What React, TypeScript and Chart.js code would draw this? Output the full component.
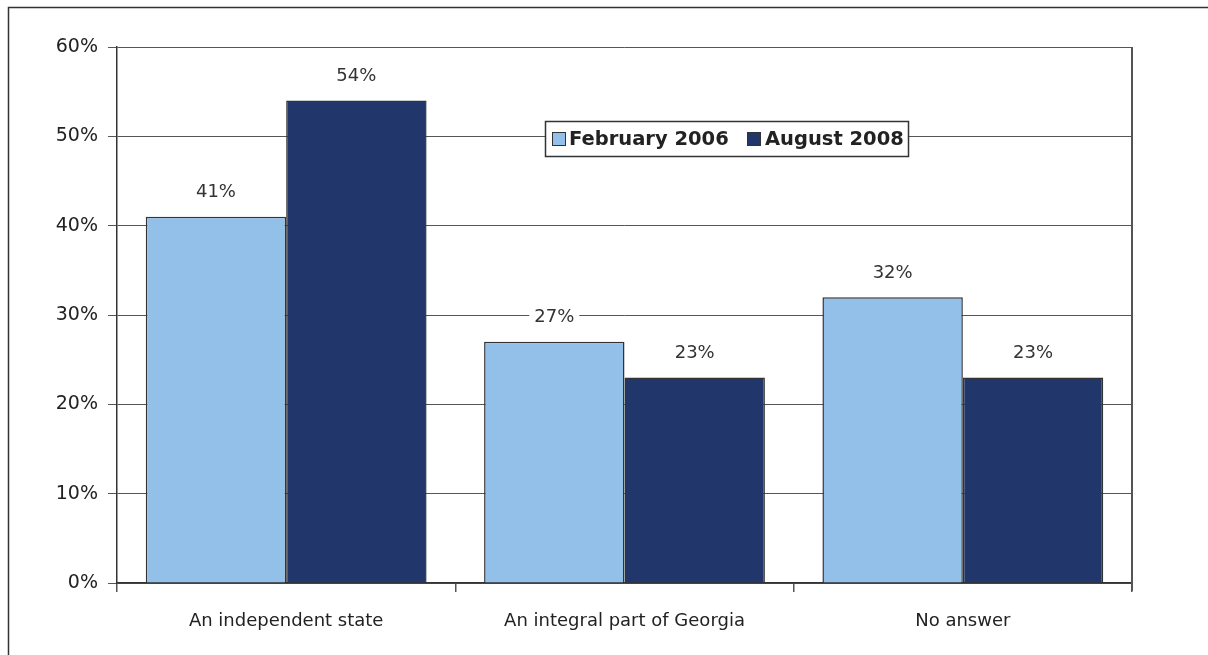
import React, { useEffect, useRef } from "react";
import { Chart, registerables } from "chart.js";

Chart.register(...registerables);

const categories = ["An independent state", "An integral part of Georgia", "No answer"];
const seriesNames = ["February 2006", "August 2008"];
const feb2006 = [41, 27, 32];
const aug2008 = [54, 23, 23];
const colors = ["#92C0E8", "#21366B"];
const FONT = "'DejaVu Sans', sans-serif";

const framePlugin = {
  id: "frame",
  beforeDraw(chart: any) {
    const ctx = chart.ctx;
    ctx.save();
    ctx.fillStyle = "#fff";
    ctx.fillRect(0, 0, chart.width, chart.height);
    ctx.strokeStyle = "#333";
    ctx.lineWidth = 1.5;
    ctx.beginPath();
    ctx.moveTo(8.5, chart.height + 5);
    ctx.lineTo(8.5, 7.5);
    ctx.lineTo(chart.width + 5, 7.5);
    ctx.stroke();
    ctx.restore();
  },
  afterDatasetsDraw(chart: any) {
    const ctx = chart.ctx;
    const a = chart.chartArea;
    ctx.save();
    ctx.strokeStyle = "#555";
    ctx.lineWidth = 2;
    ctx.beginPath();
    ctx.moveTo(a.right, a.top);
    ctx.lineTo(a.right, a.bottom + 8);
    ctx.stroke();
    ctx.font = `18px ${FONT}`;
    ctx.textAlign = "center";
    ctx.textBaseline = "middle";
    chart.data.datasets.forEach((ds: any, di: number) => {
      const meta = chart.getDatasetMeta(di);
      meta.data.forEach((bar: any, i: number) => {
        const txt = ds.data[i] + "%";
        const x = bar.x;
        const y = bar.y - 24;
        const w = ctx.measureText(txt).width + 10;
        ctx.fillStyle = "#fff";
        ctx.fillRect(x - w / 2, y - 11, w, 22);
        ctx.fillStyle = "#333";
        ctx.fillText(txt, x, y);
      });
    });
    const lx = 545, ly = 121, lw = 363, lh = 35;
    ctx.fillStyle = "#fff";
    ctx.fillRect(lx, ly, lw, lh);
    ctx.strokeStyle = "#333";
    ctx.lineWidth = 1.5;
    ctx.strokeRect(lx + 0.5, ly + 0.5, lw, lh);
    ctx.font = `bold 19.5px ${FONT}`;
    ctx.textAlign = "left";
    ctx.textBaseline = "middle";
    const items = [
      { x: 552, tx: 569 },
      { x: 747, tx: 765 },
    ];
    items.forEach((it, k) => {
      ctx.fillStyle = colors[k];
      ctx.fillRect(it.x, ly + 11, 14, 14);
      ctx.strokeStyle = "#333";
      ctx.lineWidth = 1;
      ctx.strokeRect(it.x + 0.5, ly + 11.5, 13, 13);
      ctx.fillStyle = "#222";
      ctx.fillText(seriesNames[k], it.tx, ly + lh / 2 + 1);
    });
    ctx.restore();
  },
};

export default function App() {
  const ref = useRef<HTMLCanvasElement>(null);
  useEffect(() => {
    if (!ref.current) return;
    const chart = new Chart(ref.current, {
      type: "bar",
      data: {
        labels: categories,
        datasets: [
          {
            label: seriesNames[0],
            data: feb2006,
            backgroundColor: colors[0],
            borderColor: "#333",
            borderWidth: 1.5,
            categoryPercentage: 0.83,
            barPercentage: 1,
          },
          {
            label: seriesNames[1],
            data: aug2008,
            backgroundColor: colors[1],
            borderColor: "#333",
            borderWidth: 1.5,
            categoryPercentage: 0.83,
            barPercentage: 1,
          },
        ],
      },
      options: {
        animation: false,
        responsive: false,
        layout: { padding: { top: 47, right: 76, left: 0, bottom: 0 } },
        plugins: { legend: { display: false }, tooltip: { enabled: false } },
        scales: {
          x: {
            offset: true,
            grid: {
              offset: true,
              drawOnChartArea: false,
              drawTicks: true,
              tickLength: 9,
              color: "#555",
              lineWidth: 1.5,
            },
            border: { color: "#333", width: 1.5 },
            ticks: { color: "#222", font: { family: FONT, size: 18 }, padding: 19 },
            afterFit(scale: any) {
              scale.height = 72;
            },
          },
          y: {
            min: 0,
            max: 60,
            ticks: {
              stepSize: 10,
              color: "#222",
              padding: 10,
              font: { family: FONT, size: 19 },
              callback: (v: any) => v + "%",
            },
            grid: { color: "#555", lineWidth: 1, tickLength: 9 },
            border: { color: "#333", width: 1.5 },
            afterFit(scale: any) {
              scale.width = 117;
            },
          },
        },
      },
      plugins: [framePlugin],
    });
    return () => chart.destroy();
  }, []);
  return (
    <div style={{ position: "fixed", left: 0, top: 0, width: 1208, height: 655, background: "#fff" }}>
      <canvas ref={ref} width={1208} height={655} style={{ display: "block" }} />
    </div>
  );
}
